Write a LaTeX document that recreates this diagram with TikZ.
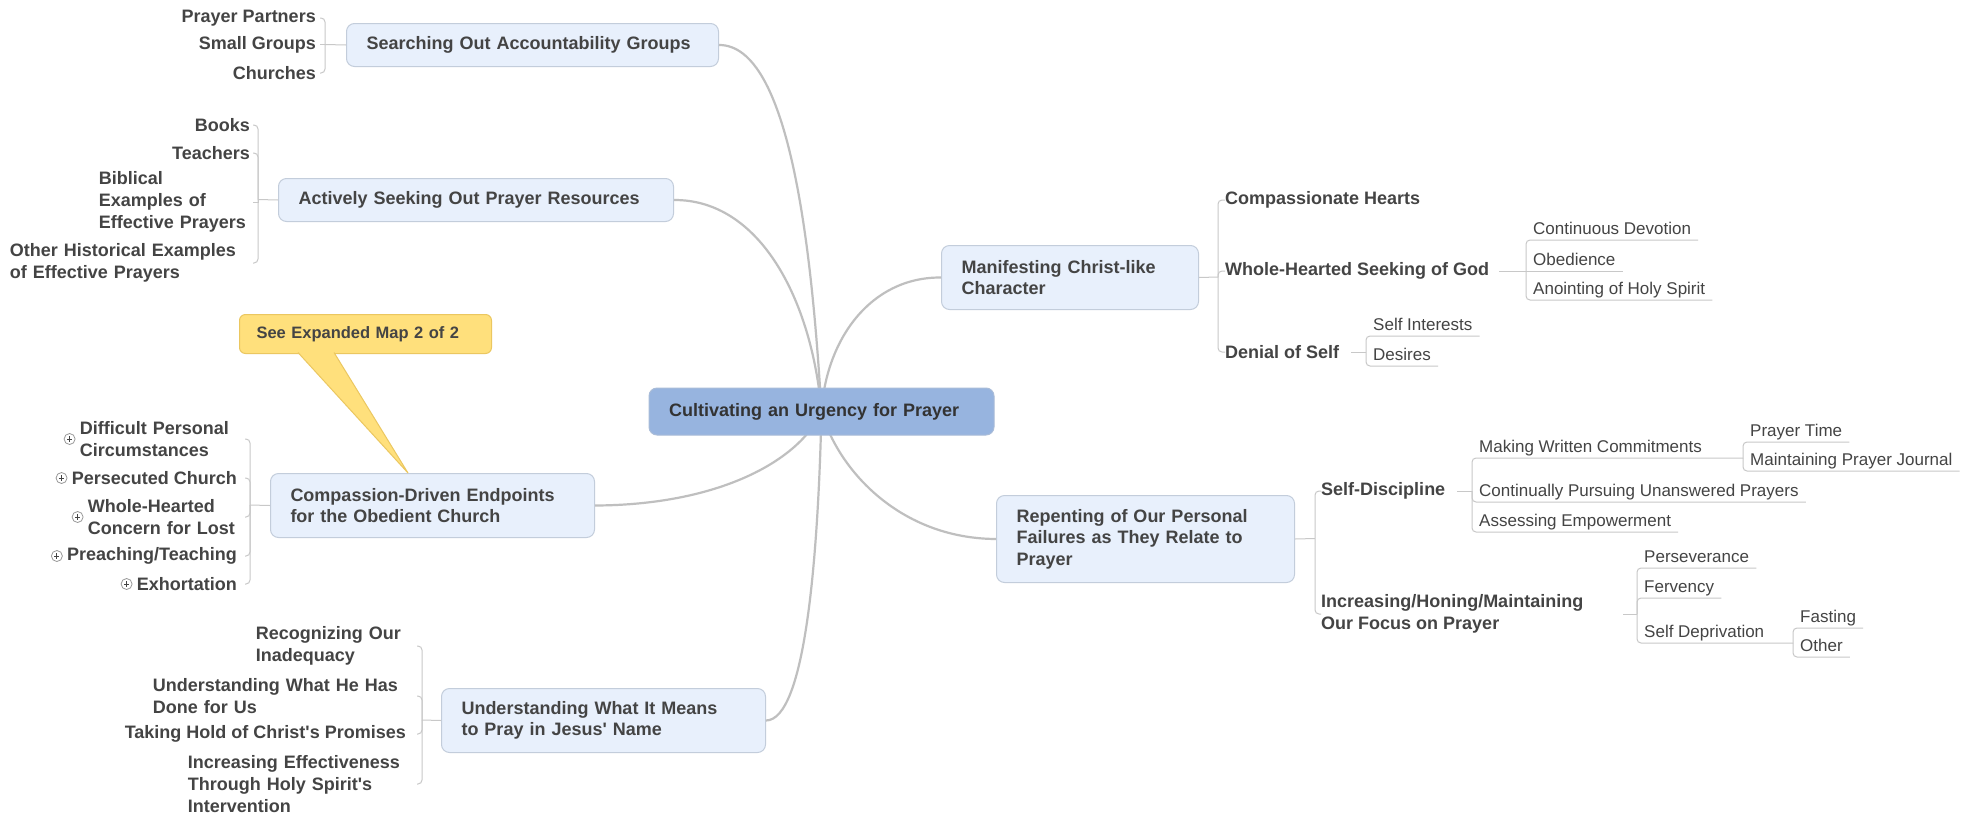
\documentclass[tikz,border=0pt]{standalone}
\usepackage{fontspec}
\setmainfont{Liberation Sans}
\usepackage{xcolor}
\definecolor{ink}{HTML}{444444}
\definecolor{hubink}{HTML}{333333}
\definecolor{hubfill}{HTML}{97B4DF}
\definecolor{hubline}{HTML}{A9BCD8}
\definecolor{topicfill}{HTML}{E8F0FC}
\definecolor{topicline}{HTML}{C3CDDB}
\definecolor{notefill}{HTML}{FFE07C}
\definecolor{noteline}{HTML}{EBC760}
\definecolor{limbgray}{HTML}{BFBFBF}
\definecolor{twiggray}{HTML}{C8C8C8}
\definecolor{plusline}{HTML}{999999}

\tikzset{
  hubbox/.style={draw=hubline, fill=hubfill, rounded corners=8pt, line width=1pt,
    text=hubink, font=\bfseries\fontsize{18}{21.5}\selectfont, align=left,
    text width=305pt, minimum height=47pt, inner xsep=20pt, inner ysep=0pt},
  topic/.style={draw=topicline, fill=topicfill, rounded corners=8pt, line width=1pt,
    anchor=north west, align=left, inner xsep=20pt, inner ysep=0pt,
    text=ink, font=\bfseries\fontsize{18}{21.5}\selectfont},
  note/.style={draw=noteline, fill=notefill, rounded corners=6pt, line width=1pt,
    anchor=north west, align=left, inner xsep=17pt, inner ysep=0pt,
    text width=218pt, minimum height=39pt,
    text=ink, font=\bfseries\fontsize{16.5}{20}\selectfont},
  lkid/.style={anchor=east, align=left, inner ysep=0pt, inner xsep=#1,
    text=ink, font=\bfseries\fontsize{18}{22}\selectfont},
  lkid/.default=4pt,
  rkid/.style={anchor=west, align=left, inner sep=0pt,
    text=ink, font=\bfseries\fontsize{18}{22}\selectfont},
  leaf/.style={anchor=south west, inner xsep=7pt, inner ysep=1pt,
    text height=13pt, text depth=4pt, text=ink, font=\fontsize{17}{20}\selectfont},
  plus/.style={circle, draw=plusline, fill=white, line width=0.8pt, minimum size=11pt,
    inner sep=0pt, path picture={
      \draw[ink, line width=0.9pt]
        ([xshift=-2.6pt]path picture bounding box.center) -- ([xshift=2.6pt]path picture bounding box.center)
        ([yshift=-2.6pt]path picture bounding box.center) -- ([yshift=2.6pt]path picture bounding box.center);}},
  limb/.style={draw=limbgray, line width=2.2pt},
  twig/.style={draw=twiggray, line width=1pt, rounded corners=4pt}
}

\begin{document}
\begin{tikzpicture}[x=1pt,y=-1pt]
  \fill[white] (0,0) rectangle (1980,817);
  \useasboundingbox (0,0) rectangle (1980,817);

  % main topics
  \node[topic, text width=332pt, minimum height=43pt] (search) at (346,23) {Searching Out Accountability Groups};
  \node[topic, text width=355pt, minimum height=43pt] (active) at (278,178) {Actively Seeking Out Prayer Resources};
  \node[topic, text width=284pt, minimum height=64pt] (comp) at (270,473) {Compassion-Driven Endpoints\\for the Obedient Church};
  \node[topic, text width=284pt, minimum height=64pt] (under) at (441,688) {Understanding What It Means\\to Pray in Jesus\textquotesingle\ Name};
  \node[topic, text width=217pt, minimum height=64pt] (manif) at (941,245) {Manifesting Christ-like\\Character};
  \node[topic, text width=258pt, minimum height=87pt] (repent) at (996,495) {Repenting of Our Personal\\Failures as They Relate to\\Prayer};

  % left: accountability
  \coordinate (searchB) at (325,44.5);
  \node[lkid=4pt] (partners) at (320,18) {Prayer Partners};
  \node[lkid=4pt] (groups) at (320,44.5) {Small Groups};
  \node[lkid=4pt] (churches) at (320,73) {Churches};
  \draw[twig] (search.west) -- (searchB);
  \draw[twig] (searchB) |- (partners.east);
  \draw[twig] (searchB) -- (groups.east);
  \draw[twig] (searchB) |- (churches.east);

  % left: resources
  \coordinate (activeB) at (258,199.5);
  \node[lkid=3pt] (books) at (253,125) {Books};
  \node[lkid=3pt] (teachers) at (253,153) {Teachers};
  \node[lkid=3pt, text width=151pt] (biblical) at (253,202) {Biblical\\Examples of\\Effective Prayers};
  \node[lkid=3pt, text width=240pt] (historic) at (253,263) {Other Historical Examples\\of Effective Prayers};
  \draw[twig] (active.west) -- (activeB);
  \draw[twig] (activeB) |- (books.east);
  \draw[twig] (activeB) |- (teachers.east);
  \draw (activeB) [twig, rounded corners=0pt] |- (biblical.east);
  \draw[twig] (activeB) |- (historic.east);

  % left: endpoints
  \coordinate (compB) at (250,505);
  \node[lkid=8pt, text width=157pt] (hardship) at (245,439) {Difficult Personal\\Circumstances};
  \node[lkid=8pt] (persecuted) at (245,478) {Persecuted Church};
  \node[lkid=8pt, text width=149pt] (lost) at (245,517) {Whole-Hearted\\Concern for Lost};
  \node[lkid=8pt] (preaching) at (245,556) {Preaching/Teaching};
  \node[lkid=8pt] (exhort) at (245,584) {Exhortation};
  \node[plus] (plHardship) at ([xshift=-2pt]hardship.west) {};
  \node[plus] (plPersecuted) at ([xshift=-2pt]persecuted.west) {};
  \node[plus] (plLost) at ([xshift=-2pt]lost.west) {};
  \node[plus] (plPreaching) at ([xshift=-2pt]preaching.west) {};
  \node[plus] (plExhort) at ([xshift=-2pt]exhort.west) {};
  \draw[twig] (comp.west) -- (compB);
  \draw[twig] (compB) |- (hardship.east);
  \draw[twig] (compB) |- (persecuted.east);
  \draw[twig] (compB) |- (lost.east);
  \draw[twig] (compB) |- (preaching.east);
  \draw[twig] (compB) |- (exhort.east);

  % left: in Jesus' name
  \coordinate (underB) at (422,720);
  \node[lkid=11pt, text width=150pt] (inadequacy) at (417,646) {Recognizing Our\\Inadequacy};
  \node[lkid=11pt, text width=253pt] (done) at (417,696) {Understanding What He Has\\Done for Us};
  \node[lkid=11pt] (promises) at (417,734) {Taking Hold of Christ\textquotesingle s Promises};
  \node[lkid=11pt, text width=218pt] (spirit) at (417,784) {Increasing Effectiveness\\Through Holy Spirit\textquotesingle s\\Intervention};
  \draw[twig] (under.west) -- (underB);
  \draw[twig] (underB) |- (inadequacy.east);
  \draw[twig] (underB) |- (done.east);
  \draw[twig] (underB) |- (promises.east);
  \draw[twig] (underB) |- (spirit.east);

  % right: character
  \coordinate (manifB) at (1218,277);
  \node[rkid] (hearts) at (1225,200) {Compassionate Hearts};
  \node[rkid] (seeking) at (1225,271) {Whole-Hearted Seeking of God};
  \node[rkid] (denial) at (1225,352) {Denial of Self};
  \draw[twig] (manif.east) -- (manifB);
  \draw[twig] (manifB) |- (hearts.west);
  \draw[twig] (manifB) |- (seeking.west);
  \draw[twig] (manifB) |- (denial.west);

  \coordinate (seekingB) at (1526,271);
  \node[leaf] (devotion) at (1526,240) {Continuous Devotion};
  \node[leaf] (obedience) at (1526,271) {Obedience};
  \node[leaf] (anointing) at (1526,300) {Anointing of Holy Spirit};
  \draw[twig, shorten <=10pt] (seeking.east) -- (seekingB);
  \draw[twig] (seekingB) |- (devotion.south east);
  \draw[twig] (seekingB) -- (obedience.south east);
  \draw[twig] (seekingB) |- (anointing.south east);

  \coordinate (denialB) at (1366,352);
  \node[leaf] (interests) at (1366,336) {Self Interests};
  \node[leaf] (desires) at (1366,366) {Desires};
  \draw[twig, shorten <=12pt] (denial.east) -- (denialB);
  \draw[twig] (denialB) |- (interests.south east);
  \draw[twig] (denialB) |- (desires.south east);

  % right: failures
  \coordinate (repentB) at (1315,538.5);
  \node[rkid] (discipline) at (1321,491) {Self-Discipline};
  \node[rkid] (focus) at (1321,614) {Increasing/Honing/Maintaining\\Our Focus on Prayer};
  \draw[twig] (repent.east) -- (repentB);
  \draw[twig] (repentB) |- (discipline.west);
  \draw[twig] (repentB) |- (focus.west);

  \coordinate (disciplineB) at (1472,491);
  \coordinate (writtenB) at (1743,458);
  \node[leaf] (written) at (1472,458) {Making Written Commitments};
  \node[leaf] (unanswered) at (1472,502) {Continually Pursuing Unanswered Prayers};
  \node[leaf] (empower) at (1472,532) {Assessing Empowerment};
  \draw[twig, shorten <=12pt] (discipline.east) -- (disciplineB);
  \draw[twig] (disciplineB) |- (writtenB);
  \draw[twig] (disciplineB) |- (unanswered.south east);
  \draw[twig] (disciplineB) |- (empower.south east);

  \node[leaf] (prayertime) at (1743,442) {Prayer Time};
  \node[leaf] (journal) at (1743,471) {Maintaining Prayer Journal};
  \draw[twig] (writtenB) |- (prayertime.south east);
  \draw[twig] (writtenB) |- (journal.south east);

  \coordinate (focusB) at (1637,614);
  \coordinate (deprivB) at (1793,643);
  \node[leaf] (persever) at (1637,568) {Perseverance};
  \node[leaf] (fervency) at (1637,598) {Fervency};
  \node[leaf] (depriv) at (1637,643) {Self Deprivation};
  \draw[twig, shorten <=40pt] (focus.east) -- (focusB);
  \draw[twig] (focusB) |- (persever.south east);
  \draw[twig] (focusB) |- (fervency.south east);
  \draw[twig] (focusB) |- (deprivB);

  \node[leaf] (fasting) at (1793,628) {Fasting};
  \node[leaf] (other) at (1793,657) {Other};
  \draw[twig] (deprivB) |- (fasting.south east);
  \draw[twig] (deprivB) |- (other.south east);

  % branches from the centre
  \coordinate (hub) at (821.5,411.5);
  \draw[limb] (search.east) .. controls (790,44.5) and (812,250) .. (hub);
  \draw[limb] (active.east) .. controls (760,199.5) and (812,300) .. (hub);
  \draw[limb] (manif.west) .. controls (870,277) and (826,340) .. (hub);
  \draw[limb] (comp.east) .. controls (720,505) and (800,460) .. (hub);
  \draw[limb] (under.east) .. controls (805,720) and (818,560) .. (hub);
  \draw[limb] (repent.west) .. controls (900,538.5) and (838,470) .. (hub);
  \node[hubbox] (urgency) at (hub) {Cultivating an Urgency for Prayer};

  % callout
  \node[note] (seemap) at (239,314) {See Expanded Map 2 of 2};
  \filldraw[fill=notefill, draw=noteline, line width=1pt]
    ([xshift=59pt,yshift=1.5pt]seemap.south west) -- ([xshift=138pt]comp.north west)
    -- ([xshift=95pt,yshift=1.5pt]seemap.south west);
\end{tikzpicture}
\end{document}
